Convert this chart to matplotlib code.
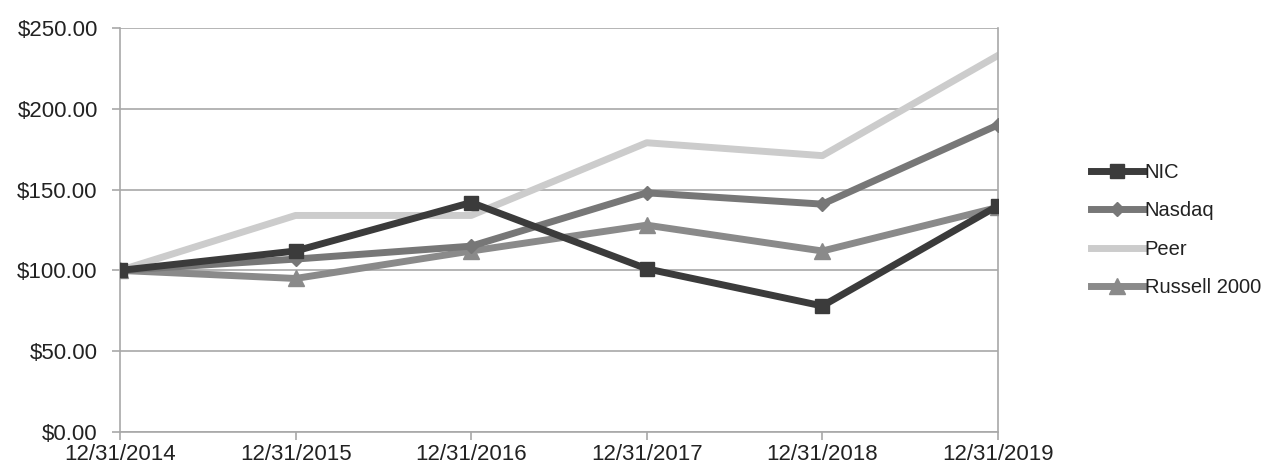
import numpy as np
import matplotlib.pyplot as plt
from matplotlib.ticker import FuncFormatter

plt.rcParams['font.family'] = ['Liberation Sans', 'DejaVu Sans']

dates = ['12/31/2014', '12/31/2015', '12/31/2016', '12/31/2017', '12/31/2018', '12/31/2019']
nic = [100, 112, 142, 101, 78, 140]
nasdaq = [100, 107, 115, 148, 141, 190]
peer = [100, 134, 134, 179, 171, 233]
russell = [100, 95, 112, 128, 112, 139]

fig = plt.figure(figsize=(12.75, 4.69), dpi=100)
ax = fig.add_axes([0.0941, 0.0789, 0.6886, 0.8614])

x = np.arange(len(dates))
lw = 5
ax.plot(x, nic, color='#3b3b3b', lw=lw, marker='s', ms=10.5, label='NIC', zorder=5)
ax.plot(x, nasdaq, color='#777777', lw=lw, marker='D', ms=7.5, label='Nasdaq', zorder=4)
ax.plot(x, peer, color='#cccccc', lw=lw, label='Peer', zorder=2)
ax.plot(x, russell, color='#8a8a8a', lw=lw, marker='^', ms=11, label='Russell 2000', zorder=3)

ax.set_xlim(0, len(dates) - 1)
ax.set_ylim(0, 250)
ax.set_yticks(np.arange(0, 251, 50))
ax.yaxis.set_major_formatter(FuncFormatter(lambda v, p: '${:.2f}'.format(v)))
ax.set_xticks(x)
ax.set_xticklabels(dates)
ax.grid(axis='y', color='#a8a8a8', lw=1.2)
ax.set_axisbelow(True)

for side in ['left', 'bottom', 'right']:
    ax.spines[side].set_color('#a8a8a8')
    ax.spines[side].set_linewidth(1.2)
ax.spines['top'].set_visible(False)
ax.tick_params(axis='both', colors='#a8a8a8', length=6, width=1.2,
               labelcolor='#222222')
ax.tick_params(axis='y', labelsize=16, pad=10)
ax.tick_params(axis='x', labelsize=16, pad=3)

leg = ax.legend(loc='center left', bbox_to_anchor=(1.097, 0.50), frameon=False,
                fontsize=14.5, handlelength=2.6, handletextpad=0.05, labelspacing=0.95,
                borderaxespad=0)
for t in leg.get_texts():
    t.set_color('#222222')

plt.savefig('out.png', dpi=100)
